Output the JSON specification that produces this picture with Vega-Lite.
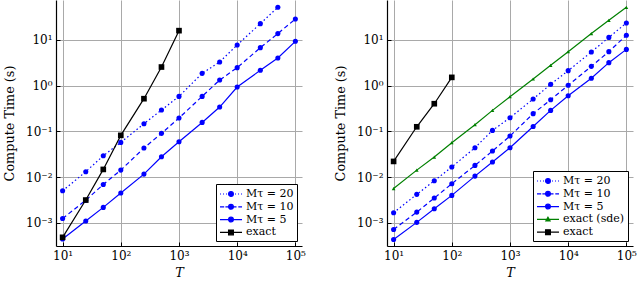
{
  "$schema": "https://vega.github.io/schema/vega-lite/v6.json",
  "padding": {"left": 3, "top": 0, "right": 0, "bottom": 0},
  "spacing": 28,
  "config": {
    "font": "DejaVu Serif",
    "view": {"stroke": null},
    "axis": {
      "labelFont": "DejaVu Serif", "titleFont": "DejaVu Serif",
      "domainColor": "black", "domainWidth": 1.2,
      "gridColor": "#a9a9a9", "gridWidth": 1,
      "tickColor": "black", "tickSize": -4, "tickWidth": 1,
      "labelFontSize": 12, "labelColor": "black", "labelPadding": 8,
      "titleFontSize": 12.8, "titleFontWeight": "normal", "titleColor": "black"
    },
    "legend": {
      "labelFont": "DejaVu Serif",
      "orient": "bottom-right", "offset": 5, "strokeColor": "black", "fillColor": "white",
      "padding": 3, "cornerRadius": 0, "labelFontSize": 11, "labelColor": "black",
      "symbolSize": 144, "symbolStrokeWidth": 1.2, "symbolOpacity": 1, "rowPadding": 0.8, "labelOffset": 13, "title": null,
      "symbolType": {"expr": "datum.value === 'Mτ = 20' ? 'M-1,0h0.17M-0.5,0h0.17M0,0h0.17M1.5,0h0.17M2,0h0.17M2.5,0h0.17M1.23,0A0.4,0.4,0,1,1,0.43,0A0.4,0.4,0,1,1,1.23,0Z' : datum.value === 'Mτ = 10' ? 'M-1,0h0.7M-0.1,0h1.85M2.05,0h0.62M1.23,0A0.4,0.4,0,1,1,0.43,0A0.4,0.4,0,1,1,1.23,0Z' : datum.value === 'Mτ = 5' ? 'M-1,0H2.67M1.23,0A0.4,0.4,0,1,1,0.43,0A0.4,0.4,0,1,1,1.23,0Z' : datum.value === 'exact (sde)' ? 'M-1,0H2.67M0.83,-0.36L1.18,0.26L0.48,0.26Z' : 'M-1,0H2.67M0.43,-0.4H1.23V0.4H0.43Z'"},
      "symbolFillColor": {"expr": "datum.value === 'exact' ? 'black' : datum.value === 'exact (sde)' ? '#008000' : '#0000ff'"},
      "symbolStrokeColor": {"expr": "datum.value === 'exact' ? 'black' : datum.value === 'exact (sde)' ? '#008000' : '#0000ff'"}
    }
  },
  "datasets": {
    "pts": [
      {"p":"a","s":"Mτ = 20","T":10,"t":0.0050},{"p":"a","s":"Mτ = 20","T":25,"t":0.0131},{"p":"a","s":"Mτ = 20","T":50,"t":0.0293},{"p":"a","s":"Mτ = 20","T":100,"t":0.0574},{"p":"a","s":"Mτ = 20","T":250,"t":0.147},{"p":"a","s":"Mτ = 20","T":500,"t":0.293},{"p":"a","s":"Mτ = 20","T":1000,"t":0.583},{"p":"a","s":"Mτ = 20","T":2500,"t":1.86},{"p":"a","s":"Mτ = 20","T":5000,"t":3.30},{"p":"a","s":"Mτ = 20","T":10000,"t":7.78},{"p":"a","s":"Mτ = 20","T":25000,"t":22.8},{"p":"a","s":"Mτ = 20","T":50000,"t":51.9},
      {"p":"a","s":"Mτ = 10","T":10,"t":0.00124},{"p":"a","s":"Mτ = 10","T":25,"t":0.0031},{"p":"a","s":"Mτ = 10","T":50,"t":0.0069},{"p":"a","s":"Mτ = 10","T":100,"t":0.0142},{"p":"a","s":"Mτ = 10","T":250,"t":0.0432},{"p":"a","s":"Mτ = 10","T":500,"t":0.0904},{"p":"a","s":"Mτ = 10","T":1000,"t":0.196},{"p":"a","s":"Mτ = 10","T":2500,"t":0.583},{"p":"a","s":"Mτ = 10","T":5000,"t":1.33},{"p":"a","s":"Mτ = 10","T":10000,"t":2.48},{"p":"a","s":"Mτ = 10","T":25000,"t":6.79},{"p":"a","s":"Mτ = 10","T":50000,"t":13.8},{"p":"a","s":"Mτ = 10","T":100000,"t":28.8},
      {"p":"a","s":"Mτ = 5","T":10,"t":0.00044},{"p":"a","s":"Mτ = 5","T":25,"t":0.00109},{"p":"a","s":"Mτ = 5","T":50,"t":0.00217},{"p":"a","s":"Mτ = 5","T":100,"t":0.00447},{"p":"a","s":"Mτ = 5","T":250,"t":0.0116},{"p":"a","s":"Mτ = 5","T":500,"t":0.0279},{"p":"a","s":"Mτ = 5","T":1000,"t":0.0594},{"p":"a","s":"Mτ = 5","T":2500,"t":0.157},{"p":"a","s":"Mτ = 5","T":5000,"t":0.341},{"p":"a","s":"Mτ = 5","T":10000,"t":0.935},{"p":"a","s":"Mτ = 5","T":25000,"t":2.17},{"p":"a","s":"Mτ = 5","T":50000,"t":4.03},{"p":"a","s":"Mτ = 5","T":100000,"t":9.35},
      {"p":"a","s":"exact","T":10,"t":0.00048},{"p":"a","s":"exact","T":25,"t":0.00314},{"p":"a","s":"exact","T":50,"t":0.0147},{"p":"a","s":"exact","T":100,"t":0.0818},{"p":"a","s":"exact","T":250,"t":0.519},{"p":"a","s":"exact","T":500,"t":2.56},{"p":"a","s":"exact","T":1000,"t":16.0},
      {"p":"b","s":"Mτ = 20","T":10,"t":0.00166},{"p":"b","s":"Mτ = 20","T":25,"t":0.00418},{"p":"b","s":"Mτ = 20","T":50,"t":0.0083},{"p":"b","s":"Mτ = 20","T":100,"t":0.0166},{"p":"b","s":"Mτ = 20","T":250,"t":0.0439},{"p":"b","s":"Mτ = 20","T":500,"t":0.105},{"p":"b","s":"Mτ = 20","T":1000,"t":0.199},{"p":"b","s":"Mτ = 20","T":2500,"t":0.511},{"p":"b","s":"Mτ = 20","T":5000,"t":1.07},{"p":"b","s":"Mτ = 20","T":10000,"t":2.13},{"p":"b","s":"Mτ = 20","T":25000,"t":5.46},{"p":"b","s":"Mτ = 20","T":50000,"t":11.4},{"p":"b","s":"Mτ = 20","T":100000,"t":23.6},
      {"p":"b","s":"Mτ = 10","T":10,"t":0.000714},{"p":"b","s":"Mτ = 10","T":25,"t":0.00171},{"p":"b","s":"Mτ = 10","T":50,"t":0.00347},{"p":"b","s":"Mτ = 10","T":100,"t":0.00714},{"p":"b","s":"Mτ = 10","T":250,"t":0.0180},{"p":"b","s":"Mτ = 10","T":500,"t":0.0371},{"p":"b","s":"Mτ = 10","T":1000,"t":0.079},{"p":"b","s":"Mτ = 10","T":2500,"t":0.244},{"p":"b","s":"Mτ = 10","T":5000,"t":0.493},{"p":"b","s":"Mτ = 10","T":10000,"t":1.02},{"p":"b","s":"Mτ = 10","T":25000,"t":2.65},{"p":"b","s":"Mτ = 10","T":50000,"t":5.55},{"p":"b","s":"Mτ = 10","T":100000,"t":12.7},
      {"p":"b","s":"Mτ = 5","T":10,"t":0.000431},{"p":"b","s":"Mτ = 5","T":25,"t":0.00102},{"p":"b","s":"Mτ = 5","T":50,"t":0.00202},{"p":"b","s":"Mτ = 5","T":100,"t":0.00397},{"p":"b","s":"Mτ = 5","T":250,"t":0.0105},{"p":"b","s":"Mτ = 5","T":500,"t":0.0213},{"p":"b","s":"Mτ = 5","T":1000,"t":0.0439},{"p":"b","s":"Mτ = 5","T":2500,"t":0.128},{"p":"b","s":"Mτ = 5","T":5000,"t":0.288},{"p":"b","s":"Mτ = 5","T":10000,"t":0.604},{"p":"b","s":"Mτ = 5","T":25000,"t":1.45},{"p":"b","s":"Mτ = 5","T":50000,"t":3.19},{"p":"b","s":"Mτ = 5","T":100000,"t":6.23},
      {"p":"b","s":"exact (sde)","T":10,"t":0.0056},{"p":"b","s":"exact (sde)","T":25,"t":0.0142},{"p":"b","s":"exact (sde)","T":50,"t":0.0274},{"p":"b","s":"exact (sde)","T":100,"t":0.0565},{"p":"b","s":"exact (sde)","T":250,"t":0.140},{"p":"b","s":"exact (sde)","T":500,"t":0.288},{"p":"b","s":"exact (sde)","T":1000,"t":0.574},{"p":"b","s":"exact (sde)","T":2500,"t":1.40},{"p":"b","s":"exact (sde)","T":5000,"t":2.79},{"p":"b","s":"exact (sde)","T":10000,"t":5.55},{"p":"b","s":"exact (sde)","T":25000,"t":13.8},{"p":"b","s":"exact (sde)","T":50000,"t":27.0},{"p":"b","s":"exact (sde)","T":100000,"t":51.9},
      {"p":"b","s":"exact","T":10,"t":0.0220},{"p":"b","s":"exact","T":25,"t":0.126},{"p":"b","s":"exact","T":50,"t":0.403},{"p":"b","s":"exact","T":100,"t":1.52}
    ]
  },
  "resolve": {"scale": {"color": "independent"}, "legend": {"color": "independent"}},
  "hconcat": [
    {
      "width": 246, "height": 246,
      "data": {"name": "pts"},
      "transform": [{"filter": "datum.p === 'a'"}],
      "encoding": {
        "x": {"field": "T", "type": "quantitative", "scale": {"type": "log", "domain": [7.7, 130000], "nice": false},
          "axis": {"values": [10, 100, 1000, 10000, 100000], "title": "T", "titleFontStyle": "italic", "titlePadding": 5,
            "labelExpr": "'10' + replace(replace(replace(replace(replace(replace(''+round(log(datum.value)/LN10),'1','¹'),'2','²'),'3','³'),'4','⁴'),'5','⁵'),'0','⁰')"}},
        "y": {"field": "t", "type": "quantitative", "scale": {"type": "log", "domain": [0.00031, 75], "nice": false},
          "axis": {"values": [0.001, 0.01, 0.1, 1, 10], "title": "Compute Time (s)", "titlePadding": 9,
            "labelExpr": "'10' + replace(replace(replace(replace(replace(replace(''+round(log(datum.value)/LN10),'-','⁻'),'1','¹'),'2','²'),'3','³'),'0','⁰'),'4','⁴')"}},
        "color": {"field": "s", "type": "nominal",
          "scale": {"domain": ["Mτ = 20", "Mτ = 10", "Mτ = 5", "exact"], "range": ["#0000ff", "#0000ff", "#0000ff", "black"]}}
      },
      "layer": [
        {"transform": [{"filter": "datum.s === 'Mτ = 20'"}], "mark": {"type": "line", "strokeWidth": 1.2, "strokeDash": [1.5, 2.5]}},
        {"transform": [{"filter": "datum.s === 'Mτ = 10'"}], "mark": {"type": "line", "strokeWidth": 1.2, "strokeDash": [4.5, 3]}},
        {"transform": [{"filter": "datum.s === 'Mτ = 5' || datum.s === 'exact'"}], "mark": {"type": "line", "strokeWidth": 1.2}},
        {"transform": [{"filter": "datum.s !== 'exact'"}], "mark": {"type": "point", "shape": "circle", "filled": true, "opacity": 1, "size": 26}},
        {"transform": [{"filter": "datum.s === 'exact'"}], "mark": {"type": "point", "shape": "square", "filled": true, "opacity": 1, "size": 32}}
      ]
    },
    {
      "width": 246, "height": 246,
      "data": {"name": "pts"},
      "transform": [{"filter": "datum.p === 'b'"}],
      "encoding": {
        "x": {"field": "T", "type": "quantitative", "scale": {"type": "log", "domain": [7.7, 130000], "nice": false},
          "axis": {"values": [10, 100, 1000, 10000, 100000], "title": "T", "titleFontStyle": "italic", "titlePadding": 5,
            "labelExpr": "'10' + replace(replace(replace(replace(replace(replace(''+round(log(datum.value)/LN10),'1','¹'),'2','²'),'3','³'),'4','⁴'),'5','⁵'),'0','⁰')"}},
        "y": {"field": "t", "type": "quantitative", "scale": {"type": "log", "domain": [0.00031, 75], "nice": false},
          "axis": {"values": [0.001, 0.01, 0.1, 1, 10], "title": "Compute Time (s)", "titlePadding": 9,
            "labelExpr": "'10' + replace(replace(replace(replace(replace(replace(''+round(log(datum.value)/LN10),'-','⁻'),'1','¹'),'2','²'),'3','³'),'0','⁰'),'4','⁴')"}},
        "color": {"field": "s", "type": "nominal",
          "scale": {"domain": ["Mτ = 20", "Mτ = 10", "Mτ = 5", "exact (sde)", "exact"], "range": ["#0000ff", "#0000ff", "#0000ff", "#008000", "black"]}}
      },
      "layer": [
        {"transform": [{"filter": "datum.s === 'Mτ = 20'"}], "mark": {"type": "line", "strokeWidth": 1.2, "strokeDash": [1.5, 2.5]}},
        {"transform": [{"filter": "datum.s === 'Mτ = 10'"}], "mark": {"type": "line", "strokeWidth": 1.2, "strokeDash": [4.5, 3]}},
        {"transform": [{"filter": "datum.s === 'Mτ = 5' || datum.s === 'exact' || datum.s === 'exact (sde)'"}], "mark": {"type": "line", "strokeWidth": 1.2}},
        {"transform": [{"filter": "datum.s !== 'exact' && datum.s !== 'exact (sde)'"}], "mark": {"type": "point", "shape": "circle", "filled": true, "opacity": 1, "size": 26}},
        {"transform": [{"filter": "datum.s === 'exact (sde)'"}], "mark": {"type": "point", "shape": "triangle-up", "filled": true, "opacity": 1, "size": 14}},
        {"transform": [{"filter": "datum.s === 'exact'"}], "mark": {"type": "point", "shape": "square", "filled": true, "opacity": 1, "size": 32}}
      ]
    }
  ]
}
